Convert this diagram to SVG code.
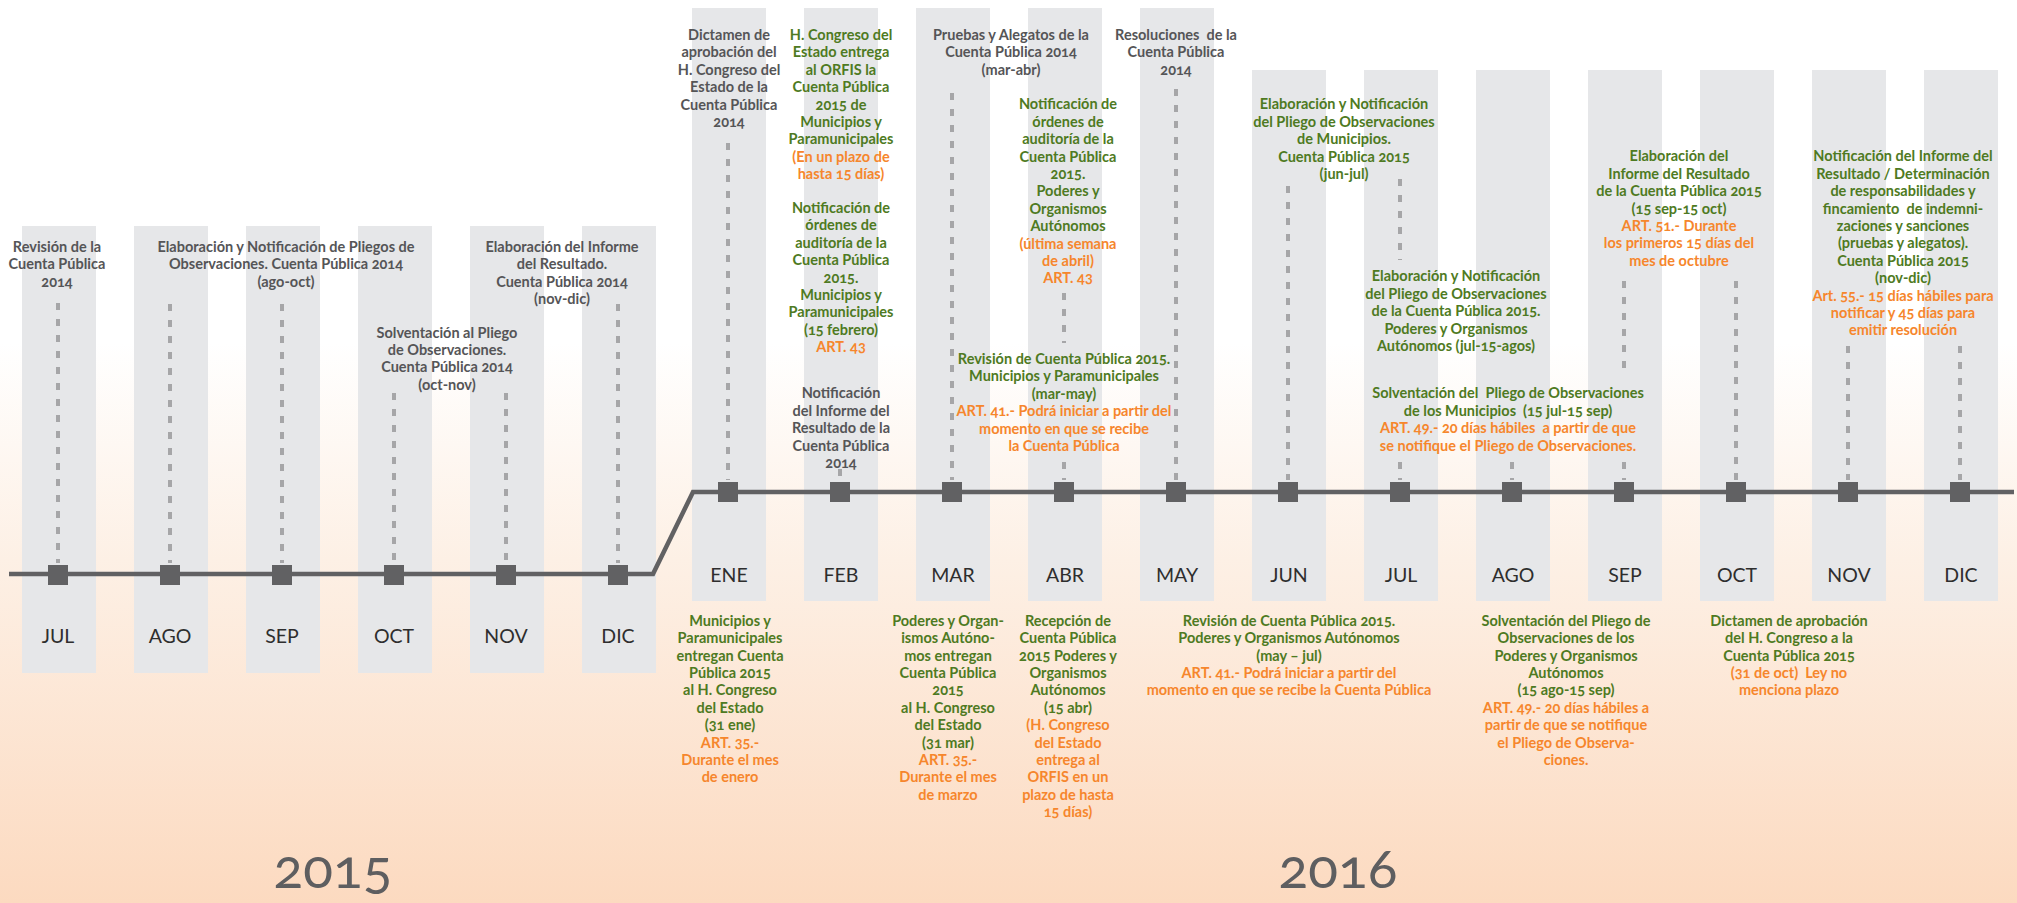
<svg xmlns="http://www.w3.org/2000/svg" width="2017" height="903" viewBox="0 0 2017 903">
<defs>
<linearGradient id="bg" x1="0" y1="0" x2="0" y2="1">
<stop offset="0" stop-color="#ffffff"/>
<stop offset="0.38" stop-color="#ffffff"/>
<stop offset="0.62" stop-color="#fdf0e5"/>
<stop offset="1" stop-color="#fcdac0"/>
</linearGradient>
<style>
.col{fill:#e6e7e9}
.mk{fill:#616163}
.mon{font-family:Lato,"Liberation Sans",sans-serif;font-size:19.5px;fill:#2e2e2e;text-anchor:middle}
.t{font-family:Lato,"Liberation Sans",sans-serif;font-size:14.5px;font-weight:700;text-anchor:middle;font-variant-numeric:oldstyle-nums}
.g{fill:#555557}
.gr{fill:#4e7a22}
.o{fill:#f6862c}
.dot{stroke:#a6a6a8;stroke-width:4;stroke-dasharray:7 9;fill:none}
.line{stroke:#616163;stroke-width:4.5;fill:none;stroke-linejoin:miter}
.yr{font-family:Lato,"Liberation Sans",sans-serif;font-size:55px;fill:#5e5e60;text-anchor:middle;font-variant-numeric:oldstyle-nums}
</style>
</defs>
<rect x="0" y="0" width="2017" height="903" fill="url(#bg)"/>

<!-- 2015 month columns -->
<g id="m2015-jul"><rect class="col" x="22" y="226" width="74" height="447"/><text class="mon" x="58" y="643">JUL</text></g>
<g id="m2015-ago"><rect class="col" x="134" y="226" width="74" height="447"/><text class="mon" x="170" y="643">AGO</text></g>
<g id="m2015-sep"><rect class="col" x="246" y="226" width="74" height="447"/><text class="mon" x="282" y="643">SEP</text></g>
<g id="m2015-oct"><rect class="col" x="358" y="226" width="74" height="447"/><text class="mon" x="394" y="643">OCT</text></g>
<g id="m2015-nov"><rect class="col" x="470" y="226" width="74" height="447"/><text class="mon" x="506" y="643">NOV</text></g>
<g id="m2015-dic"><rect class="col" x="582" y="226" width="74" height="447"/><text class="mon" x="618" y="643">DIC</text></g>

<!-- 2016 month columns -->
<g id="m2016-ene"><rect class="col" x="692" y="8" width="74" height="593"/><text class="mon" x="729" y="582">ENE</text></g>
<g id="m2016-feb"><rect class="col" x="804" y="8" width="74" height="593"/><text class="mon" x="841" y="582">FEB</text></g>
<g id="m2016-mar"><rect class="col" x="916" y="8" width="74" height="593"/><text class="mon" x="953" y="582">MAR</text></g>
<g id="m2016-abr"><rect class="col" x="1028" y="8" width="74" height="593"/><text class="mon" x="1065" y="582">ABR</text></g>
<g id="m2016-may"><rect class="col" x="1140" y="8" width="74" height="593"/><text class="mon" x="1177" y="582">MAY</text></g>
<g id="m2016-jun"><rect class="col" x="1252" y="70" width="74" height="531"/><text class="mon" x="1289" y="582">JUN</text></g>
<g id="m2016-jul"><rect class="col" x="1364" y="70" width="74" height="531"/><text class="mon" x="1401" y="582">JUL</text></g>
<g id="m2016-ago"><rect class="col" x="1476" y="70" width="74" height="531"/><text class="mon" x="1513" y="582">AGO</text></g>
<g id="m2016-sep"><rect class="col" x="1588" y="70" width="74" height="531"/><text class="mon" x="1625" y="582">SEP</text></g>
<g id="m2016-oct"><rect class="col" x="1700" y="70" width="74" height="531"/><text class="mon" x="1737" y="582">OCT</text></g>
<g id="m2016-nov"><rect class="col" x="1812" y="70" width="74" height="531"/><text class="mon" x="1849" y="582">NOV</text></g>
<g id="m2016-dic"><rect class="col" x="1924" y="70" width="74" height="531"/><text class="mon" x="1961" y="582">DIC</text></g>

<!-- connectors: timeline and dotted leaders -->
<g id="connectors">
<path class="line" d="M9 574 H653 L693 492 H2014"/>
<path class="dot" d="M58 303 V563 M170 304 V563 M282 304 V563 M394 393 V563 M506 393 V563 M618 304 V563"/>
<path class="dot" d="M728 143 V480 M840 469 V480 M952 93 V480 M1064 293 V343 M1064 462 V480 M1176 89 V480 M1288 186 V480 M1400 179 V260 M1400 462 V480 M1512 462 V480 M1624 281 V376 M1624 462 V480 M1736 281 V480 M1848 346 V480 M1960 346 V480"/>
</g>

<!-- markers -->
<g id="markers">
<rect class="mk" x="48" y="565" width="20" height="20"/>
<rect class="mk" x="160" y="565" width="20" height="20"/>
<rect class="mk" x="272" y="565" width="20" height="20"/>
<rect class="mk" x="384" y="565" width="20" height="20"/>
<rect class="mk" x="496" y="565" width="20" height="20"/>
<rect class="mk" x="608" y="565" width="20" height="20"/>
<rect class="mk" x="718" y="482" width="20" height="20"/>
<rect class="mk" x="830" y="482" width="20" height="20"/>
<rect class="mk" x="942" y="482" width="20" height="20"/>
<rect class="mk" x="1054" y="482" width="20" height="20"/>
<rect class="mk" x="1166" y="482" width="20" height="20"/>
<rect class="mk" x="1278" y="482" width="20" height="20"/>
<rect class="mk" x="1390" y="482" width="20" height="20"/>
<rect class="mk" x="1502" y="482" width="20" height="20"/>
<rect class="mk" x="1614" y="482" width="20" height="20"/>
<rect class="mk" x="1726" y="482" width="20" height="20"/>
<rect class="mk" x="1838" y="482" width="20" height="20"/>
<rect class="mk" x="1950" y="482" width="20" height="20"/>
</g>

<!-- 2015 notes -->
<g id="n-2015-revision"><text class="t g" x="57" y="252"><tspan x="57" dy="0">Revisión de la</tspan><tspan x="57" dy="17.4">Cuenta Pública</tspan><tspan x="57" dy="17.4">2014</tspan></text></g>
<g id="n-2015-elab-pliegos"><text class="t g" x="286" y="252"><tspan x="286" dy="0">Elaboración y Notificación de Pliegos de</tspan><tspan x="286" dy="17.4">Observaciones. Cuenta Pública 2014</tspan><tspan x="286" dy="17.4">(ago-oct)</tspan></text></g>
<g id="n-2015-solventacion"><text class="t g" x="447" y="337.5"><tspan x="447" dy="0">Solventación al Pliego</tspan><tspan x="447" dy="17.4">de Observaciones.</tspan><tspan x="447" dy="17.4">Cuenta Pública 2014</tspan><tspan x="447" dy="17.4">(oct-nov)</tspan></text></g>
<g id="n-2015-informe"><text class="t g" x="562" y="252"><tspan x="562" dy="0">Elaboración del Informe</tspan><tspan x="562" dy="17.4">del Resultado.</tspan><tspan x="562" dy="17.4">Cuenta Pública 2014</tspan><tspan x="562" dy="17.4">(nov-dic)</tspan></text></g>

<!-- 2016 top notes -->
<g id="n-ene-dictamen"><text class="t g" x="729" y="40"><tspan x="729" dy="0">Dictamen de</tspan><tspan x="729" dy="17.4">aprobación del</tspan><tspan x="729" dy="17.4">H. Congreso del</tspan><tspan x="729" dy="17.4">Estado de la</tspan><tspan x="729" dy="17.4">Cuenta Pública</tspan><tspan x="729" dy="17.4">2014</tspan></text></g>
<g id="n-feb-entrega"><text class="t" x="841" y="40"><tspan class="gr" x="841" dy="0">H. Congreso del</tspan><tspan class="gr" x="841" dy="17.4">Estado entrega</tspan><tspan class="gr" x="841" dy="17.4">al ORFIS la</tspan><tspan class="gr" x="841" dy="17.4">Cuenta Pública</tspan><tspan class="gr" x="841" dy="17.4">2015 de</tspan><tspan class="gr" x="841" dy="17.4">Municipios y</tspan><tspan class="gr" x="841" dy="17.4">Paramunicipales</tspan><tspan class="o" x="841" dy="17.4">(En un plazo de</tspan><tspan class="o" x="841" dy="17.4">hasta 15 días)</tspan></text></g>
<g id="n-feb-ordenes"><text class="t" x="841" y="213"><tspan class="gr" x="841" dy="0">Notificación de</tspan><tspan class="gr" x="841" dy="17.4">órdenes de</tspan><tspan class="gr" x="841" dy="17.4">auditoría de la</tspan><tspan class="gr" x="841" dy="17.4">Cuenta Pública</tspan><tspan class="gr" x="841" dy="17.4">2015.</tspan><tspan class="gr" x="841" dy="17.4">Municipios y</tspan><tspan class="gr" x="841" dy="17.4">Paramunicipales</tspan><tspan class="gr" x="841" dy="17.4">(15 febrero)</tspan><tspan class="o" x="841" dy="17.4">ART. 43</tspan></text></g>
<g id="n-feb-informe"><text class="t g" x="841" y="398.4"><tspan x="841" dy="0">Notificación</tspan><tspan x="841" dy="17.4">del Informe del</tspan><tspan x="841" dy="17.4">Resultado de la</tspan><tspan x="841" dy="17.4">Cuenta Pública</tspan><tspan x="841" dy="17.4">2014</tspan></text></g>
<g id="n-mar-pruebas"><text class="t g" x="1011" y="40"><tspan x="1011" dy="0">Pruebas y Alegatos de la</tspan><tspan x="1011" dy="17.4">Cuenta Pública 2014</tspan><tspan x="1011" dy="17.4">(mar-abr)</tspan></text></g>
<g id="n-abr-ordenes"><text class="t" x="1068" y="109.4"><tspan class="gr" x="1068" dy="0">Notificación de</tspan><tspan class="gr" x="1068" dy="17.4">órdenes de</tspan><tspan class="gr" x="1068" dy="17.4">auditoría de la</tspan><tspan class="gr" x="1068" dy="17.4">Cuenta Pública</tspan><tspan class="gr" x="1068" dy="17.4">2015.</tspan><tspan class="gr" x="1068" dy="17.4">Poderes y</tspan><tspan class="gr" x="1068" dy="17.4">Organismos</tspan><tspan class="gr" x="1068" dy="17.4">Autónomos</tspan><tspan class="o" x="1068" dy="17.4">(última semana</tspan><tspan class="o" x="1068" dy="17.4">de abril)</tspan><tspan class="o" x="1068" dy="17.4">ART. 43</tspan></text></g>
<g id="n-mar-revision"><text class="t" x="1064" y="364"><tspan class="gr" x="1064" dy="0">Revisión de Cuenta Pública 2015.</tspan><tspan class="gr" x="1064" dy="17.4">Municipios y Paramunicipales</tspan><tspan class="gr" x="1064" dy="17.4">(mar-may)</tspan><tspan class="o" x="1064" dy="17.4">ART. 41.- Podrá iniciar a partir del</tspan><tspan class="o" x="1064" dy="17.4">momento en que se recibe</tspan><tspan class="o" x="1064" dy="17.4">la Cuenta Pública</tspan></text></g>
<g id="n-may-resoluciones"><text class="t g" x="1176" y="40" xml:space="preserve"><tspan x="1176" dy="0">Resoluciones  de la</tspan><tspan x="1176" dy="17.4">Cuenta Pública</tspan><tspan x="1176" dy="17.4">2014</tspan></text></g>
<g id="n-jun-pliego"><text class="t gr" x="1344" y="109.4"><tspan x="1344" dy="0">Elaboración y Notificación</tspan><tspan x="1344" dy="17.4">del Pliego de Observaciones</tspan><tspan x="1344" dy="17.4">de Municipios.</tspan><tspan x="1344" dy="17.4">Cuenta Pública 2015</tspan><tspan x="1344" dy="17.4">(jun-jul)</tspan></text></g>
<g id="n-jul-pliego"><text class="t gr" x="1456" y="281.4"><tspan x="1456" dy="0">Elaboración y Notificación</tspan><tspan x="1456" dy="17.4">del Pliego de Observaciones</tspan><tspan x="1456" dy="17.4">de la Cuenta Pública 2015.</tspan><tspan x="1456" dy="17.4">Poderes y Organismos</tspan><tspan x="1456" dy="17.4">Autónomos (jul-15-agos)</tspan></text></g>
<g id="n-jul-solventacion"><text class="t" x="1508" y="398.4" xml:space="preserve"><tspan class="gr" x="1508" dy="0">Solventación del  Pliego de Observaciones</tspan><tspan class="gr" x="1508" dy="17.4">de los Municipios  (15 jul-15 sep)</tspan><tspan class="o" x="1508" dy="17.4">ART. 49.- 20 días hábiles  a partir de que</tspan><tspan class="o" x="1508" dy="17.4">se notifique el Pliego de Observaciones.</tspan></text></g>
<g id="n-sep-informe"><text class="t" x="1679" y="161.4"><tspan class="gr" x="1679" dy="0">Elaboración del</tspan><tspan class="gr" x="1679" dy="17.4">Informe del Resultado</tspan><tspan class="gr" x="1679" dy="17.4">de la Cuenta Pública 2015</tspan><tspan class="gr" x="1679" dy="17.4">(15 sep-15 oct)</tspan><tspan class="o" x="1679" dy="17.4">ART. 51.- Durante</tspan><tspan class="o" x="1679" dy="17.4">los primeros 15 días del</tspan><tspan class="o" x="1679" dy="17.4">mes de octubre</tspan></text></g>
<g id="n-nov-notificacion"><text class="t" x="1903" y="161.4" xml:space="preserve"><tspan class="gr" x="1903" dy="0">Notificación del Informe del</tspan><tspan class="gr" x="1903" dy="17.4">Resultado / Determinación</tspan><tspan class="gr" x="1903" dy="17.4">de responsabilidades y</tspan><tspan class="gr" x="1903" dy="17.4">fincamiento  de indemni-</tspan><tspan class="gr" x="1903" dy="17.4">zaciones y sanciones</tspan><tspan class="gr" x="1903" dy="17.4">(pruebas y alegatos).</tspan><tspan class="gr" x="1903" dy="17.4">Cuenta Pública 2015</tspan><tspan class="gr" x="1903" dy="17.4">(nov-dic)</tspan><tspan class="o" x="1903" dy="17.4">Art. 55.- 15 días hábiles para</tspan><tspan class="o" x="1903" dy="17.4">notificar y 45 días para</tspan><tspan class="o" x="1903" dy="17.4">emitir resolución</tspan></text></g>

<!-- 2016 bottom notes -->
<g id="n-ene-entregan"><text class="t" x="730" y="625.8"><tspan class="gr" x="730" dy="0">Municipios y</tspan><tspan class="gr" x="730" dy="17.4">Paramunicipales</tspan><tspan class="gr" x="730" dy="17.4">entregan Cuenta</tspan><tspan class="gr" x="730" dy="17.4">Pública 2015</tspan><tspan class="gr" x="730" dy="17.4">al H. Congreso</tspan><tspan class="gr" x="730" dy="17.4">del Estado</tspan><tspan class="gr" x="730" dy="17.4">(31 ene)</tspan><tspan class="o" x="730" dy="17.4">ART. 35.-</tspan><tspan class="o" x="730" dy="17.4">Durante el mes</tspan><tspan class="o" x="730" dy="17.4">de enero</tspan></text></g>
<g id="n-mar-entregan"><text class="t" x="948" y="625.8"><tspan class="gr" x="948" dy="0">Poderes y Organ-</tspan><tspan class="gr" x="948" dy="17.4">ismos Autóno-</tspan><tspan class="gr" x="948" dy="17.4">mos entregan</tspan><tspan class="gr" x="948" dy="17.4">Cuenta Pública</tspan><tspan class="gr" x="948" dy="17.4">2015</tspan><tspan class="gr" x="948" dy="17.4">al H. Congreso</tspan><tspan class="gr" x="948" dy="17.4">del Estado</tspan><tspan class="gr" x="948" dy="17.4">(31 mar)</tspan><tspan class="o" x="948" dy="17.4">ART. 35.-</tspan><tspan class="o" x="948" dy="17.4">Durante el mes</tspan><tspan class="o" x="948" dy="17.4">de marzo</tspan></text></g>
<g id="n-abr-recepcion"><text class="t" x="1068" y="625.8"><tspan class="gr" x="1068" dy="0">Recepción de</tspan><tspan class="gr" x="1068" dy="17.4">Cuenta Pública</tspan><tspan class="gr" x="1068" dy="17.4">2015 Poderes y</tspan><tspan class="gr" x="1068" dy="17.4">Organismos</tspan><tspan class="gr" x="1068" dy="17.4">Autónomos</tspan><tspan class="gr" x="1068" dy="17.4">(15 abr)</tspan><tspan class="o" x="1068" dy="17.4">(H. Congreso</tspan><tspan class="o" x="1068" dy="17.4">del Estado</tspan><tspan class="o" x="1068" dy="17.4">entrega al</tspan><tspan class="o" x="1068" dy="17.4">ORFIS en un</tspan><tspan class="o" x="1068" dy="17.4">plazo de hasta</tspan><tspan class="o" x="1068" dy="17.4">15 días)</tspan></text></g>
<g id="n-may-revision"><text class="t" x="1289" y="625.8"><tspan class="gr" x="1289" dy="0">Revisión de Cuenta Pública 2015.</tspan><tspan class="gr" x="1289" dy="17.4">Poderes y Organismos Autónomos</tspan><tspan class="gr" x="1289" dy="17.4">(may – jul)</tspan><tspan class="o" x="1289" dy="17.4">ART. 41.- Podrá iniciar a partir del</tspan><tspan class="o" x="1289" dy="17.4">momento en que se recibe la Cuenta Pública</tspan></text></g>
<g id="n-ago-solventacion"><text class="t" x="1566" y="625.8"><tspan class="gr" x="1566" dy="0">Solventación del Pliego de</tspan><tspan class="gr" x="1566" dy="17.4">Observaciones de los</tspan><tspan class="gr" x="1566" dy="17.4">Poderes y Organismos</tspan><tspan class="gr" x="1566" dy="17.4">Autónomos</tspan><tspan class="gr" x="1566" dy="17.4">(15 ago-15 sep)</tspan><tspan class="o" x="1566" dy="17.4">ART. 49.- 20 días hábiles a</tspan><tspan class="o" x="1566" dy="17.4">partir de que se notifique</tspan><tspan class="o" x="1566" dy="17.4">el Pliego de Observa-</tspan><tspan class="o" x="1566" dy="17.4">ciones.</tspan></text></g>
<g id="n-oct-dictamen"><text class="t" x="1789" y="625.8" xml:space="preserve"><tspan class="gr" x="1789" dy="0">Dictamen de aprobación</tspan><tspan class="gr" x="1789" dy="17.4">del H. Congreso a la</tspan><tspan class="gr" x="1789" dy="17.4">Cuenta Pública 2015</tspan><tspan class="o" x="1789" dy="17.4">(31 de oct)  Ley no</tspan><tspan class="o" x="1789" dy="17.4">menciona plazo</tspan></text></g>

<!-- year labels -->
<g id="y2015"><text class="yr" x="333" y="888">2015</text></g>
<g id="y2016"><text class="yr" x="1338" y="888">2016</text></g>
</svg>
